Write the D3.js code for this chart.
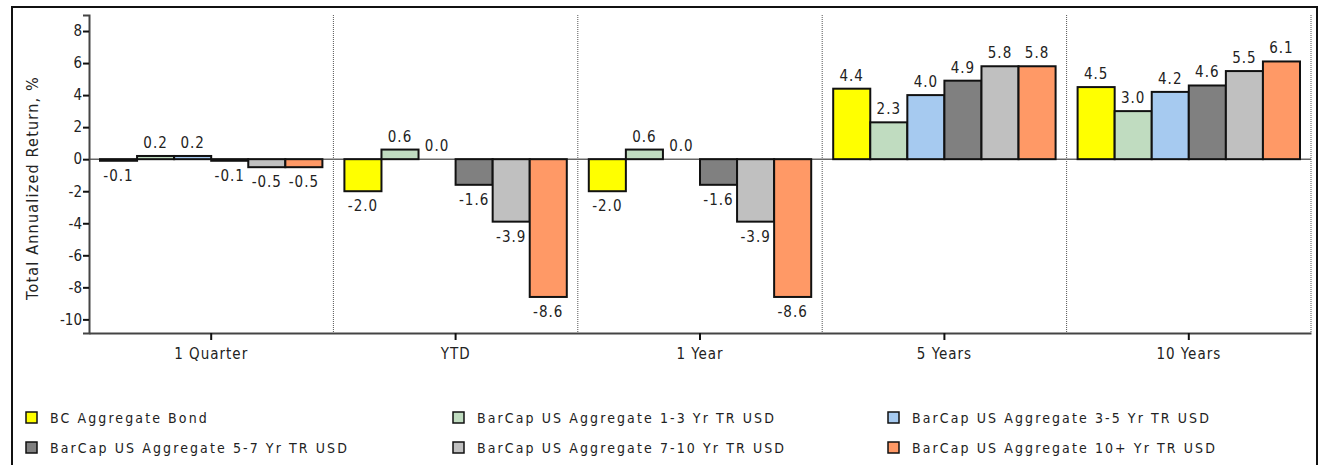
<!DOCTYPE html>
<html>
<head>
<meta charset="utf-8">
<script src="https://cdn.jsdelivr.net/npm/d3@7"></script>
<style>
  body { margin: 0; background: #fff; }
  svg text { font-family: "Liberation Sans Narrow", "Arial Narrow", "DejaVu Sans Condensed", sans-serif; fill: #222; }
</style>
</head>
<body>
<svg id="chart" width="1319" height="465"></svg>
<script>
// periods along the x axis
const periods = ['1 Quarter', 'YTD', '1 Year', '5 Years', '10 Years'];

// one array per index, same order as periods
const seriesNames = [
  'BC Aggregate Bond',
  'BarCap US Aggregate 1-3 Yr TR USD',
  'BarCap US Aggregate 3-5 Yr TR USD',
  'BarCap US Aggregate 5-7 Yr TR USD',
  'BarCap US Aggregate 7-10 Yr TR USD',
  'BarCap US Aggregate 10+ Yr TR USD'
];
const bcAggregate = [-0.1, -2.0, -2.0, 4.4, 4.5];
const agg1to3 = [0.2, 0.6, 0.6, 2.3, 3.0];
const agg3to5 = [0.2, 0.0, 0.0, 4.0, 4.2];
const agg5to7 = [-0.1, -1.6, -1.6, 4.9, 4.6];
const agg7to10 = [-0.5, -3.9, -3.9, 5.8, 5.5];
const agg10plus = [-0.5, -8.6, -8.6, 5.8, 6.1];
const seriesColors = ['#ffff00', '#c0dcc0', '#a6caf0', '#808080', '#c0c0c0', '#ff9966'];
const yTicks = [-10, -8, -6, -4, -2, 0, 2, 4, 6, 8];

const allSeries = [bcAggregate, agg1to3, agg3to5, agg5to7, agg7to10, agg10plus];

// plain hyphen instead of d3's unicode minus
const fmt1 = v => d3.format('.1f')(v).replace('\u2212', '-');
const fmt0 = v => d3.format('d')(v).replace('\u2212', '-');

const svg = d3.select('#chart');
const margin = {left: 89, top: 15, right: 8, bottom: 132};
const width = 1319 - margin.left - margin.right;
const height = 465 - margin.top - margin.bottom;

// outer frame
svg.append('rect')
  .attr('x', 12).attr('y', 7)
  .attr('width', 1305).attr('height', 470)
  .attr('fill', 'none').attr('stroke', '#111').attr('stroke-width', 2);

const g = svg.append('g').attr('transform', 'translate(' + margin.left + ',' + margin.top + ')');

const x0 = d3.scaleBand().domain(periods).range([0, width]).padding(0);
const x1 = d3.scaleBand().domain(d3.range(seriesNames.length))
  .range([11, x0.bandwidth() - 11]).padding(0);
const y = d3.scaleLinear().domain([-10.85, 9.0]).range([height, 0]);

// dotted separators between periods
g.selectAll('line.sep')
  .data(periods)
  .enter().append('line')
  .attr('class', 'sep')
  .attr('x1', d => x0(d) + x0.bandwidth())
  .attr('x2', d => x0(d) + x0.bandwidth())
  .attr('y1', 0).attr('y2', height)
  .attr('stroke', '#555').attr('stroke-width', 1)
  .attr('stroke-dasharray', '1,1');

// zero line
g.append('line')
  .attr('x1', 0).attr('x2', width)
  .attr('y1', y(0)).attr('y2', y(0))
  .attr('stroke', '#666').attr('stroke-width', 1.5);

let bars = [];
periods.forEach((p, i) => {
  allSeries.forEach((s, j) => {
    bars.push({period: p, idx: j, value: s[i]});
  });
});

g.selectAll('rect.bar')
  .data(bars)
  .enter().append('rect')
  .attr('class', 'bar')
  .attr('x', d => x0(d.period) + x1(d.idx))
  .attr('width', x1.bandwidth())
  .attr('y', d => y(Math.max(0, d.value)))
  .attr('height', d => Math.abs(y(d.value) - y(0)))
  .attr('fill', d => seriesColors[d.idx])
  .attr('stroke', '#111').attr('stroke-width', 2);

g.selectAll('text.lbl')
  .data(bars)
  .enter().append('text')
  .attr('class', 'lbl')
  .attr('x', d => x0(d.period) + x1(d.idx) + x1.bandwidth() / 2)
  .attr('y', d => d.value >= 0 ? y(d.value) - 8 : y(d.value) + 20)
  .attr('text-anchor', 'middle')
  .style('font-size', '15px')
  .style('letter-spacing', '1px')
  .text(d => fmt1(d.value));

// y axis
const yAxis = g.append('g')
  .call(d3.axisLeft(y).tickValues(yTicks).tickSize(6).tickPadding(1).tickFormat(fmt0));
yAxis.select('.domain').attr('stroke', '#444').attr('stroke-width', 2);
yAxis.selectAll('.tick line').attr('stroke', '#111').attr('stroke-width', 2);
yAxis.selectAll('.tick text').style('font-size', '15px').attr('fill', '#222');

// x axis
const xAxis = g.append('g')
  .attr('transform', 'translate(0,' + height + ')')
  .call(d3.axisBottom(x0).tickSize(7).tickPadding(8).tickSizeOuter(0));
xAxis.select('.domain').attr('stroke', '#444').attr('stroke-width', 2);
xAxis.selectAll('.tick line').attr('stroke', '#111').attr('stroke-width', 2);
xAxis.selectAll('.tick text').style('font-size', '15px').style('letter-spacing', '1px').attr('fill', '#222');

svg.append('text')
  .attr('transform', 'translate(38,188) rotate(-90)')
  .attr('text-anchor', 'middle')
  .style('font-size', '16px')
  .style('letter-spacing', '1.2px')
  .text('Total Annualized Return, %');

// legend, 3 columns x 2 rows
const legendCols = [26, 453, 888];
const legendRows = [412, 442];
const legend = svg.selectAll('g.leg')
  .data(seriesNames)
  .enter().append('g')
  .attr('class', 'leg')
  .attr('transform', (d, i) => 'translate(' + legendCols[i % 3] + ',' + legendRows[Math.floor(i / 3)] + ')');
legend.append('rect')
  .attr('width', 11).attr('height', 11)
  .attr('fill', (d, i) => seriesColors[i])
  .attr('stroke', '#111').attr('stroke-width', 1.5);
legend.append('text')
  .attr('x', 24).attr('y', 11)
  .style('font-size', '14px')
  .style('letter-spacing', '2.1px')
  .text(d => d);
</script>
</body>
</html>
